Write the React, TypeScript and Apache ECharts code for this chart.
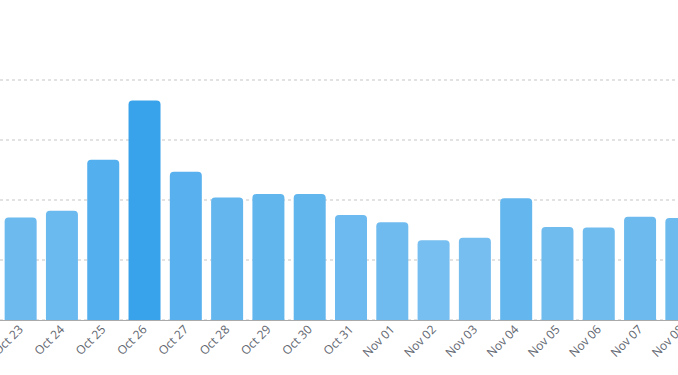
import React, { useEffect, useRef } from "react";
import * as echarts from "echarts";

const categories = [
  "Oct 23", "Oct 24", "Oct 25", "Oct 26", "Oct 27", "Oct 28", "Oct 29", "Oct 30",
  "Oct 31", "Nov 01", "Nov 02", "Nov 03", "Nov 04", "Nov 05", "Nov 06", "Nov 07", "Nov 08",
];
const values = [171, 182, 267, 366, 247, 204, 210, 210, 175, 163, 133, 137, 203, 155, 154, 172, 170];
const yTicks = [0, 100, 200, 300, 400];

export default function App() {
  const ref = useRef<HTMLDivElement>(null);
  useEffect(() => {
    if (!ref.current) return;
    const chart = echarts.init(ref.current, undefined, { renderer: "svg" });
    chart.setOption({
      animation: false,
      grid: { left: 0, right: 0, top: 80, bottom: 55, containLabel: false, outerBoundsMode: "none" },
      visualMap: {
        type: "continuous",
        show: false,
        dimension: 1,
        min: 130,
        max: 366,
        inRange: { color: ["#78bff0", "#38a3eb"] },
      },
      xAxis: {
        type: "category",
        data: categories,
        axisLine: { lineStyle: { color: "#aaaaaa", width: 1 } },
        axisTick: { alignWithLabel: true, length: 5, lineStyle: { color: "#666666" } },
        axisLabel: {
          interval: 0,
          rotate: 45,
          color: "#5f6670",
          fontSize: 12,
          fontFamily: "Open Sans",
          margin: 7,
        },
      },
      yAxis: {
        type: "value",
        min: yTicks[0],
        max: yTicks[yTicks.length - 1],
        interval: yTicks[1] - yTicks[0],
        axisLabel: { show: false },
        axisLine: { show: false },
        axisTick: { show: false },
        splitLine: { lineStyle: { type: [3, 3], color: "#e2e2e2", width: 2 } },
      },
      series: [
        {
          type: "bar",
          data: values,
          barWidth: 32,
          itemStyle: { borderRadius: [4, 4, 0, 0] },
        },
      ],
    });
    return () => chart.dispose();
  }, []);
  return (
    <div style={{ position: "fixed", left: 0, top: 0, width: 678, height: 375, overflow: "hidden", background: "#fff" }}>
      <div ref={ref} style={{ position: "absolute", left: 0, top: 0, width: 702, height: 375 }} />
    </div>
  );
}
